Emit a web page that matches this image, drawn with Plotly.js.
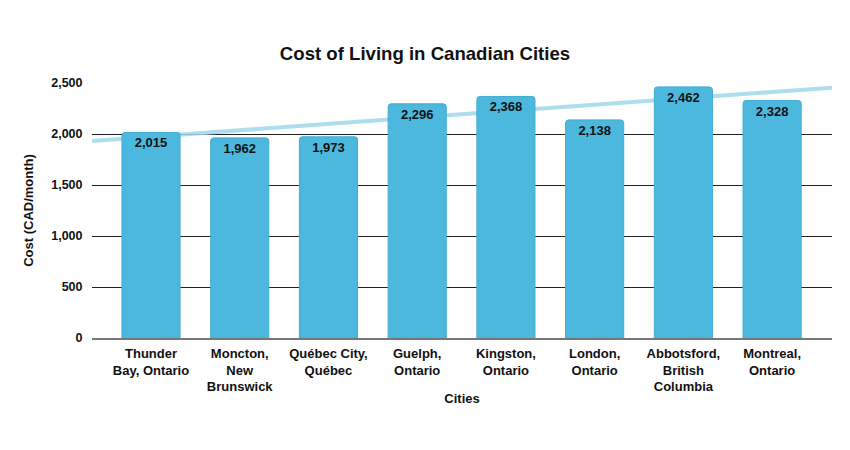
<!DOCTYPE html>
<html>
<head>
<meta charset="utf-8">
<script src="https://cdn.plot.ly/plotly-3.0.1.min.js"></script>
<style>html,body{margin:0;padding:0;background:#fff;}#chart{width:850px;height:450px;}</style>
</head>
<body>
<div id="chart"></div>
<script>
const cities = [
  "Thunder<br>Bay, Ontario",
  "Moncton,<br>New<br>Brunswick",
  "Québec City,<br>Québec",
  "Guelph,<br>Ontario",
  "Kingston,<br>Ontario",
  "London,<br>Ontario",
  "Abbotsford,<br>British<br>Columbia",
  "Montreal,<br>Ontario"
];
const costs = [2015, 1962, 1973, 2296, 2368, 2138, 2462, 2328];
const costLabels = ["2,015", "1,962", "1,973", "2,296", "2,368", "2,138", "2,462", "2,328"];
const yTicks = [0, 500, 1000, 1500, 2000, 2500];

// linear trendline (least squares) over category index
const n = costs.length;
const idx = costs.map((_, i) => i);
const mx = idx.reduce((a, b) => a + b, 0) / n;
const my = costs.reduce((a, b) => a + b, 0) / n;
let sxy = 0, sxx = 0;
idx.forEach((x, i) => { sxy += (x - mx) * (costs[i] - my); sxx += (x - mx) * (x - mx); });
const slope = sxy / sxx, icpt = my - slope * mx;
const xr = [-0.665, 7.675];

const font = "Liberation Sans, Arial, sans-serif";

const trend = {
  x: xr, y: xr.map(x => icpt + slope * x),
  type: "scatter", mode: "lines",
  line: {color: "rgba(160,215,235,0.85)", width: 4},
  hoverinfo: "skip", showlegend: false,
  xaxis: "x", yaxis: "y"
};
const bars = {
  x: cities, y: costs, type: "bar",
  xaxis: "x2", yaxis: "y2",
  width: 0.655,
  marker: {color: "#4db8de", cornerradius: 3, line: {color: "#42acd4", width: 1}},
  text: costLabels, textposition: "inside", insidetextanchor: "end",
  textangle: 0,
  textfont: {family: font, size: 13, color: "#111", weight: "bold"},
  showlegend: false
};

const layout = {
  width: 850, height: 450,
  margin: {l: 92, r: 18, t: 83, b: 112},
  paper_bgcolor: "#fff", plot_bgcolor: "#fff",
  title: {text: "<b>Cost of Living in Canadian Cities</b>", x: 0.5, xanchor: "center", y: 0.882, yanchor: "middle",
          font: {family: font, size: 18.6, color: "#111"}},
  font: {family: font, color: "#111"},
  xaxis: {
    type: "linear", range: xr, tickvals: idx, ticktext: cities,
    showgrid: false, zeroline: false, showline: true, linecolor: "#777", linewidth: 2,
    ticks: "outside", ticklen: 2, tickcolor: "rgba(0,0,0,0)",
    tickfont: {family: font, size: 13, color: "#111", weight: "bold"},
    title: {text: "<b>Cities</b>", font: {family: font, size: 13, color: "#111"}, standoff: 0}
  },
  yaxis: {
    range: [0, 2500], tickvals: yTicks, tickformat: ",",
    showgrid: true, gridcolor: "#222", gridwidth: 1, zeroline: false,
    ticks: "outside", ticklen: 6, tickcolor: "rgba(0,0,0,0)",
    tickfont: {family: font, size: 12.5, color: "#111", weight: "bold"},
    title: {text: "<b>Cost (CAD/month)</b>", font: {family: font, size: 13, color: "#111"}, standoff: 14}
  },
  xaxis2: {type: "category", overlaying: "x", range: xr, visible: false},
  yaxis2: {overlaying: "y", range: [0, 2500], visible: false}
};
Plotly.newPlot("chart", [trend, bars], layout, {displayModeBar: false, staticPlot: true});
</script>
</body>
</html>
